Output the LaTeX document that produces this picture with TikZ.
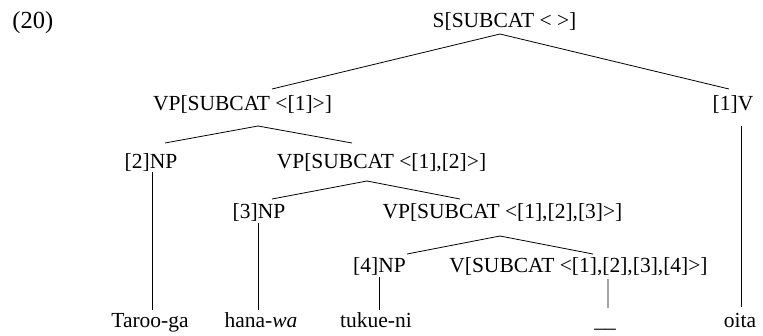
\documentclass[tikz,border=0pt]{standalone}
\usepackage{fontspec}
\setmainfont{Liberation Serif}
\usetikzlibrary{positioning}

\begin{document}
\begin{tikzpicture}[x=1bp,y=-1bp,line width=0.8bp,
   cat/.style={anchor=base,inner sep=0pt,font=\fontsize{21.5bp}{26bp}\selectfont}]
   \useasboundingbox (0,0) rectangle (763,335);
   \node[cat] (num) [anchor=base west,font=\fontsize{24.5bp}{29bp}\selectfont] at (12,28) {(20)};
   \node[cat] (s)    at (504.5,27) {S[SUBCAT < >]};
   \node[cat] (vp1)  at (242.5,110) {VP[SUBCAT <[1]>]};
   \node[cat] (v1)   at (733,110) {[1]V};
   \node[cat] (np2)  at (151,168) {[2]NP};
   \node[cat] (vp2)  at (381.5,168) {VP[SUBCAT <[1],[2]>]};
   \node[cat] (np3)  at (259,218) {[3]NP};
   \node[cat] (vp3)  at (502.5,218) {VP[SUBCAT <[1],[2],[3]>]};
   \node[cat] (np4)  at (379.5,272) {[4]NP};
   \node[cat] (v4)   at (578.5,272) {V[SUBCAT <[1],[2],[3],[4]>]};
   \node[cat] (taroo) at (150,327) {Taroo-ga};
   \node[cat] (hana)  at (261,327) {hana-\textit{wa}};
   \node[cat] (tukue) at (376,327) {tukue-ni};
   \node[cat] (gap)   at (605,327) {\_\_};
   \node[cat] (oita)  at (740,327) {oita};
   \path[draw]
        ([shift={(-4.5,7)}]s.base) edge ([shift={(29.5,-21)}]vp1.base)
        ([shift={(-4.5,7)}]s.base) edge ([shift={(-4,-21)}]v1.base)
        ([shift={(15.5,16)}]vp1.base) edge ([shift={(14,-25)}]np2.base)
        ([shift={(15.5,16)}]vp1.base) edge ([shift={(-29.5,-25)}]vp2.base)
        ([shift={(8.5,16)}]v1.base) edge ([shift={(1.5,-20)}]oita.base)
        ([shift={(1,4)}]np2.base) edge ([shift={(2,-17)}]taroo.base)
        ([shift={(-14.5,13)}]vp2.base) edge ([shift={(13,-19)}]np3.base)
        ([shift={(-14.5,13)}]vp2.base) edge ([shift={(-42.5,-19)}]vp3.base)
        ([shift={(-1,5)}]np3.base) edge ([shift={(-3,-17)}]hana.base)
        ([shift={(-2.5,18)}]vp3.base) edge ([shift={(27.5,-18)}]np4.base)
        ([shift={(-2.5,18)}]vp3.base) edge ([shift={(14.5,-18)}]v4.base)
        ([shift={(-0.5,5)}]np4.base) edge ([shift={(3,-17)}]tukue.base)
        ([shift={(29.5,7)}]v4.base) edge ([shift={(3,-19)}]gap.base)
        ;
\end{tikzpicture}
\end{document}
